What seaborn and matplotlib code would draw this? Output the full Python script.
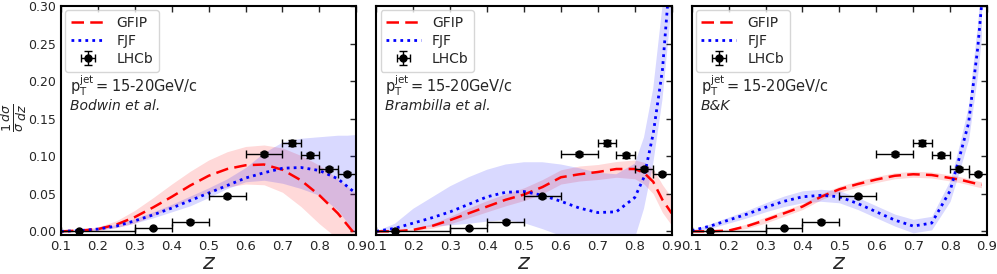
import numpy as np
import matplotlib
matplotlib.use('Agg')
import matplotlib.pyplot as plt
import seaborn as sns

# LHCb data points
lhcb_z = [0.15, 0.35, 0.45, 0.55, 0.65, 0.725, 0.775, 0.825, 0.875]
lhcb_y = [0.0005, 0.004, 0.0125, 0.047, 0.103, 0.117, 0.101, 0.083, 0.077]
lhcb_xlo = [0.05, 0.05, 0.05, 0.05, 0.05, 0.025, 0.025, 0.025, 0.025]
lhcb_xhi = [0.15, 0.05, 0.05, 0.05, 0.05, 0.025, 0.025, 0.025, 0.025]
lhcb_yerr = [0.0005, 0.001, 0.002, 0.002, 0.003, 0.004, 0.003, 0.003, 0.002]

# Bodwin et al.
z1 = [0.1, 0.15, 0.2, 0.25, 0.3, 0.35, 0.4, 0.45, 0.5, 0.55, 0.6, 0.65, 0.7, 0.75, 0.8, 0.85, 0.875, 0.9]
gfip1 = [0.0, 0.001, 0.003, 0.009, 0.019, 0.032, 0.046, 0.061, 0.074, 0.083, 0.088, 0.089, 0.082, 0.068, 0.048, 0.024, 0.009, -0.006]
gfip1_lo = [0.0, 0.0, 0.001, 0.005, 0.011, 0.021, 0.032, 0.043, 0.052, 0.059, 0.063, 0.062, 0.052, 0.033, 0.01, -0.01, -0.01, -0.01]
gfip1_hi = [0.0, 0.002, 0.006, 0.014, 0.028, 0.045, 0.063, 0.08, 0.095, 0.106, 0.113, 0.115, 0.111, 0.101, 0.088, 0.07, 0.06, 0.05]
fjf1 = [0.0, 0.001, 0.003, 0.007, 0.014, 0.022, 0.031, 0.041, 0.051, 0.061, 0.071, 0.078, 0.084, 0.085, 0.081, 0.07, 0.06, 0.05]
fjf1_lo = [0.0, 0.0, 0.002, 0.005, 0.011, 0.018, 0.026, 0.034, 0.045, 0.057, 0.066, 0.068, 0.064, 0.057, 0.048, 0.028, 0.012, -0.005]
fjf1_hi = [0.0, 0.002, 0.004, 0.009, 0.017, 0.026, 0.036, 0.047, 0.058, 0.07, 0.085, 0.105, 0.119, 0.124, 0.126, 0.128, 0.128, 0.129]

# Brambilla et al.
z2 = [0.1, 0.15, 0.2, 0.25, 0.3, 0.35, 0.4, 0.45, 0.5, 0.55, 0.6, 0.65, 0.7, 0.75, 0.8, 0.825, 0.85, 0.875, 0.9]
gfip2 = [0.0, 0.0, 0.002, 0.007, 0.015, 0.024, 0.033, 0.042, 0.049, 0.059, 0.072, 0.076, 0.079, 0.083, 0.083, 0.078, 0.066, 0.042, 0.024]
gfip2_lo = [0.0, 0.0, 0.001, 0.004, 0.01, 0.018, 0.026, 0.034, 0.041, 0.05, 0.063, 0.067, 0.069, 0.072, 0.07, 0.063, 0.05, 0.025, 0.008]
gfip2_hi = [0.0, 0.001, 0.004, 0.01, 0.02, 0.031, 0.041, 0.05, 0.058, 0.069, 0.082, 0.087, 0.089, 0.093, 0.095, 0.092, 0.083, 0.062, 0.045]
fjf2 = [0.0, 0.004, 0.011, 0.018, 0.026, 0.036, 0.046, 0.052, 0.053, 0.048, 0.04, 0.031, 0.025, 0.026, 0.045, 0.072, 0.13, 0.215, 0.37]
fjf2_lo = [0.0, 0.001, 0.004, 0.006, 0.008, 0.01, 0.013, 0.015, 0.011, 0.003, -0.006, -0.01, -0.01, -0.01, -0.01, 0.03, 0.09, 0.175, 0.3]
fjf2_hi = [0.0, 0.01, 0.03, 0.045, 0.06, 0.072, 0.082, 0.089, 0.092, 0.092, 0.089, 0.084, 0.078, 0.076, 0.09, 0.125, 0.19, 0.3, 0.45]

# B&K
z3 = [0.1, 0.15, 0.2, 0.25, 0.3, 0.35, 0.4, 0.45, 0.5, 0.55, 0.6, 0.65, 0.7, 0.75, 0.8, 0.825, 0.85, 0.875, 0.885]
gfip3 = [0.0, 0.0, 0.001, 0.007, 0.015, 0.024, 0.033, 0.046, 0.056, 0.063, 0.069, 0.074, 0.076, 0.075, 0.071, 0.069, 0.066, 0.063, 0.062]
gfip3_lo = [0.0, 0.0, 0.0, 0.004, 0.011, 0.02, 0.029, 0.042, 0.052, 0.059, 0.065, 0.07, 0.072, 0.071, 0.067, 0.065, 0.062, 0.059, 0.058]
gfip3_hi = [0.0, 0.001, 0.003, 0.01, 0.019, 0.028, 0.037, 0.05, 0.06, 0.067, 0.073, 0.078, 0.08, 0.079, 0.075, 0.073, 0.07, 0.067, 0.066]
fjf3 = [0.001, 0.007, 0.015, 0.023, 0.032, 0.04, 0.046, 0.048, 0.046, 0.037, 0.026, 0.015, 0.007, 0.011, 0.054, 0.098, 0.144, 0.245, 0.3]
fjf3_lo = [0.0, 0.004, 0.011, 0.018, 0.026, 0.033, 0.038, 0.04, 0.038, 0.029, 0.018, 0.007, -0.002, 0.002, 0.04, 0.08, 0.122, 0.21, 0.26]
fjf3_hi = [0.002, 0.01, 0.019, 0.028, 0.038, 0.047, 0.054, 0.056, 0.054, 0.045, 0.034, 0.023, 0.016, 0.02, 0.068, 0.115, 0.168, 0.28, 0.34]

panels = [
    ('Bodwin et al.', z1, gfip1, gfip1_lo, gfip1_hi, fjf1, fjf1_lo, fjf1_hi),
    ('Brambilla et al.', z2, gfip2, gfip2_lo, gfip2_hi, fjf2, fjf2_lo, fjf2_hi),
    ('B&K', z3, gfip3, gfip3_lo, gfip3_hi, fjf3, fjf3_lo, fjf3_hi),
]

sns.set_style('white')
plt.rcParams['font.family'] = ['DejaVu Sans']

fig, axes = plt.subplots(1, 3, figsize=(9.97, 2.74), dpi=100, sharey=True)
fig.subplots_adjust(left=0.0612, right=0.99, bottom=0.142, top=0.978, wspace=0.068)

for ax, (name, z, g, glo, ghi, f, flo, fhi) in zip(axes, panels):
    ax.fill_between(z, glo, ghi, color='red', alpha=0.15, lw=0)
    ax.fill_between(z, flo, fhi, color='blue', alpha=0.15, lw=0)
    sns.lineplot(x=z, y=g, ax=ax, color='red', linestyle=(0, (5, 2.5)), lw=1.8, label='GFIP')
    sns.lineplot(x=z, y=f, ax=ax, color='blue', linestyle=(0, (1, 1.5)), lw=2, label='FJF')
    ax.errorbar(lhcb_z, lhcb_y, xerr=[lhcb_xlo, lhcb_xhi], yerr=lhcb_yerr,
                fmt='o', color='black', ms=5, elinewidth=1, capsize=3,
                ecolor='black', label='LHCb', zorder=5)
    ax.set_xlim(0.1, 0.9)
    ax.set_ylim(-0.005, 0.30)
    ax.set_xticks(np.arange(0.1, 0.91, 0.1))
    ax.set_xticklabels([f'{t:.1f}' for t in np.arange(0.1, 0.91, 0.1)])
    ax.set_yticks(np.arange(0, 0.31, 0.05))
    ax.set_yticklabels([f'{t:.2f}' for t in np.arange(0, 0.31, 0.05)])
    ax.tick_params(direction='in', top=True, right=True, labelsize=9.5, length=4, width=1)
    ax.tick_params(axis='y', labelsize=9)
    for s in ax.spines.values():
        s.set_linewidth(1.5)
        s.set_color('black')
    ax.set_xlabel('$z$', fontsize=16, labelpad=0)
    ax.legend(loc='upper left', fontsize=10, frameon=True, handlelength=2.5,
              borderaxespad=0.3, labelspacing=0.3, edgecolor='#cccccc', fancybox=True)
    ax.text(0.03, 0.652, r'$\mathrm{p_T^{jet}=}$15-20GeV/c', transform=ax.transAxes,
            fontsize=10.5, va='center')
    ax.text(0.03, 0.563, name, transform=ax.transAxes, fontsize=10, style='italic', va='center')

# y label placed by hand so it stays inside the figure
fig.text(14 / 997, 0.57, r'$\frac{1}{\sigma}\frac{d\sigma}{dz}$', fontsize=13,
         rotation=90, ha='center', va='center')

plt.savefig('out.png', dpi=100)
plt.close()
